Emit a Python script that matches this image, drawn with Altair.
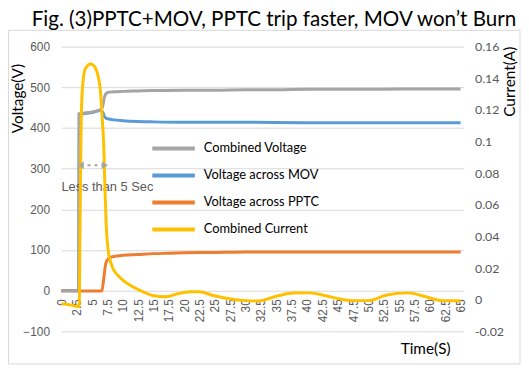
import altair as alt
import pandas as pd

title_text = "Fig. (3)PPTC+MOV, PPTC trip faster, MOV won’t Burn"
series_names = ["Combined Voltage", "Voltage across MOV", "Voltage across PPTC", "Combined Current"]
series_colors = ["#A5A5A5", "#5B9BD5", "#ED7D31", "#FFC000"]

x_ticks = [0, 2.5, 5, 7.5, 10, 12.5, 15, 17.5, 20, 22.5, 25, 27.5, 30, 32.5, 35,
           37.5, 40, 42.5, 45, 47.5, 50, 52.5, 55, 57.5, 60, 62.5, 65]
volt_ticks = [-100, 0, 100, 200, 300, 400, 500, 600]
curr_ticks = [-0.02, 0, 0.02, 0.04, 0.06, 0.08, 0.1, 0.12, 0.14, 0.16]

# Combined Voltage (V)
comb_t = [0, 1, 2, 2.8, 2.9, 3.5, 4.5, 5.5, 6.3, 6.7, 7.0, 7.3, 7.7, 8.5, 10, 12.5,
          15, 20, 25, 30, 35, 40, 45, 50, 55, 60, 65]
comb_v = [0, 0, 0, 0, 435, 436, 438, 441, 445, 452, 475, 485, 488, 489, 490, 491,
          492, 493, 493, 494, 494, 495, 495, 495, 496, 496, 496]

# Voltage across MOV (V)
mov_t = [0, 2.8, 2.9, 3.5, 4.5, 5.5, 6.3, 6.7, 7.0, 7.3, 7.7, 8.5, 10, 12.5, 15,
         20, 25, 30, 40, 50, 65]
mov_v = [0, 0, 434, 435, 437, 440, 443, 440, 428, 424, 422, 420, 418, 416, 415,
         414, 414, 414, 413, 413, 413]

# Voltage across PPTC (V)
pptc_t = [0, 2.8, 3.0, 6.3, 6.6, 6.9, 7.2, 7.5, 8.0, 9, 10, 12.5, 15, 17.5, 20,
          25, 30, 40, 50, 65]
pptc_v = [0, 0, -1, -1, 0, 30, 65, 76, 82, 85, 87, 89, 91, 92, 93, 94, 95, 95, 95, 95]

# Combined Current (A)
cur_t = [0, 1, 2, 2.9, 3.05, 3.2, 3.4, 3.9, 4.8, 5.6, 6.0, 6.3, 6.6, 6.9, 7.1, 7.3,
         7.6, 8.0, 8.5, 9.3, 10.1, 11.7, 13.3, 15, 17, 18.7, 21, 22.5, 24.6, 27.3,
         30, 32, 35, 37.8, 40.4, 43, 45.2, 47.5, 50, 52.8, 56.5, 59.2, 62, 65]
cur_a = [-0.0025, -0.003, -0.0038, -0.0044, 0.05, 0.105, 0.132, 0.146, 0.149, 0.146,
         0.141, 0.134, 0.118, 0.097, 0.07, 0.047, 0.032, 0.024, 0.019, 0.015, 0.012,
         0.008, 0.005, 0.0025, 0.0018, 0.0035, 0.005, 0.005, 0.0028, 0.0006, -0.0006,
         -0.0008, 0.0022, 0.0042, 0.0043, 0.0025, 0.0006, -0.0006, -0.0006, 0.0028,
         0.0043, 0.002, -0.0006, -0.0007]

note_text = "Less than 5 Sec"
note_t = [0]
note_v = [255]
# double-headed arrow (drawn on the current scale so it sits above the current line)
arrow_t = [3.14, 7.08]
arrow_c = [0.085, 0.085]

comb_df = pd.DataFrame({"t": comb_t, "v": comb_v, "series": series_names[0]})
mov_df = pd.DataFrame({"t": mov_t, "v": mov_v, "series": series_names[1]})
pptc_df = pd.DataFrame({"t": pptc_t, "v": pptc_v, "series": series_names[2]})
cur_df = pd.DataFrame({"t": cur_t, "c": cur_a, "series": series_names[3]})

x_enc = alt.X(
    "t:Q",
    scale=alt.Scale(domain=[0, 65.5], nice=False, zero=False),
    axis=alt.Axis(
        values=x_ticks, labelExpr="'' + datum.value", labelAngle=270,
        labelAlign="right", labelBaseline="middle", labelPadding=8,
        labelFont="Liberation Sans", labelFontSize=12, labelColor="#595959",
        labelFlush=False, labelOverlap=False,
        grid=False, domain=False, ticks=False, offset=-41,
        title="Time(S)", titleX=368, titleY=58, titleAlign="center",
        titleBaseline="middle", titleFont="Lato", titleFontSize=15.5,
        titleFontWeight="normal", titleColor="#000000",
    ),
)

y_v = alt.Y(
    "v:Q",
    scale=alt.Scale(domain=[-100, 600], nice=False, zero=False),
    axis=alt.Axis(
        values=volt_ticks, grid=True, gridColor="#d9d9d9", gridWidth=1,
        domain=False, ticks=False, labelPadding=12, labelFont="Liberation Sans",
        labelFontSize=12, labelColor="#595959", labelOverlap=False,
        title="Voltage(V)", titleX=-44, titleY=52, titleAngle=270,
        titleAlign="center", titleBaseline="middle", titleFont="Lato",
        titleFontSize=15.5, titleFontWeight="normal", titleColor="#000000",
    ),
)

y_c = alt.Y(
    "c:Q",
    scale=alt.Scale(domain=[-0.02, 0.16], nice=False, zero=False),
    axis=alt.Axis(
        orient="right", values=curr_ticks, grid=False, domain=False, ticks=False,
        labelPadding=11, labelFont="Lato", labelFontSize=12.5, labelColor="#595959",
        labelExpr="'' + datum.value", labelOverlap=False,
        title="Current(A)", titleX=46, titleY=35, titleAngle=270,
        titleAlign="center", titleBaseline="middle", titleFont="Lato",
        titleFontSize=15.5, titleFontWeight="normal", titleColor="#000000",
    ),
)

legend = alt.Legend(
    title=None, orient="none", legendX=90, legendY=96, symbolType="stroke",
    symbolSize=1849, symbolStrokeWidth=4, clipHeight=14, rowPadding=13.3,
    labelOffset=7, labelFont="Lato", labelFontSize=13, labelColor="#000000",
    padding=0, symbolOffset=0,
)
color_enc = alt.Color(
    "series:N",
    scale=alt.Scale(domain=series_names, range=series_colors),
    legend=legend,
)

def vline(df):
    return alt.Chart(df).mark_line(strokeWidth=3, interpolate="monotone").encode(
        x=x_enc, y=y_v, color=color_enc
    )

note_df = pd.DataFrame({"t": note_t, "v": note_v, "label": [note_text]})
note = alt.Chart(note_df).mark_text(
    align="left", baseline="middle", font="Liberation Sans", fontSize=13, color="#595959"
).encode(x=x_enc, y=y_v, text="label:N")

volt_layer = alt.layer(vline(mov_df), vline(pptc_df), vline(comb_df), note)

cur_line = alt.Chart(cur_df).mark_line(strokeWidth=3, interpolate="monotone").encode(
    x=x_enc, y=y_c, color=color_enc
)

arrow_line_df = pd.DataFrame({"t": [arrow_t[0]], "t2": [arrow_t[1]], "c": [arrow_c[0]]})
arrow_line = alt.Chart(arrow_line_df).mark_rule(
    color="#a6a6a6", strokeWidth=2, strokeDash=[3, 4]
).encode(x=x_enc, x2="t2:Q", y=y_c)

heads_df = pd.DataFrame({"t": arrow_t, "c": arrow_c, "shape": ["triangle-left", "triangle-right"]})
heads = alt.Chart(heads_df).mark_point(
    filled=True, color="#a6a6a6", size=55, opacity=1
).encode(x=x_enc, y=y_c, shape=alt.Shape("shape:N", scale=None))

cur_layer = alt.layer(cur_line, arrow_line, heads)

title_df = pd.DataFrame({"label": [title_text]})
title = alt.Chart(title_df).mark_text(
    align="left", baseline="alphabetic", font="Lato", fontSize=20.8, color="#000000"
).encode(x=alt.value(-30), y=alt.value(-20.5), text="label:N")

border_df = pd.DataFrame({"k": [0]})
border = alt.Chart(border_df).mark_rect(
    fillOpacity=0, stroke="#d9d9d9", strokeWidth=1
).encode(x=alt.value(-53.5), x2=alt.value(464), y=alt.value(-16.5), y2=alt.value(321))

chart = alt.layer(border, volt_layer, cur_layer, title).resolve_scale(
    y="independent"
).properties(
    width=407, height=288,
    padding={"left": 54, "top": 37, "right": 58, "bottom": 34},
    autosize=alt.AutoSizeParams(type="none"),
    background="white",
).configure_view(stroke=None)

chart.save("out.html", embed_options={"renderer": "svg", "actions": False})
